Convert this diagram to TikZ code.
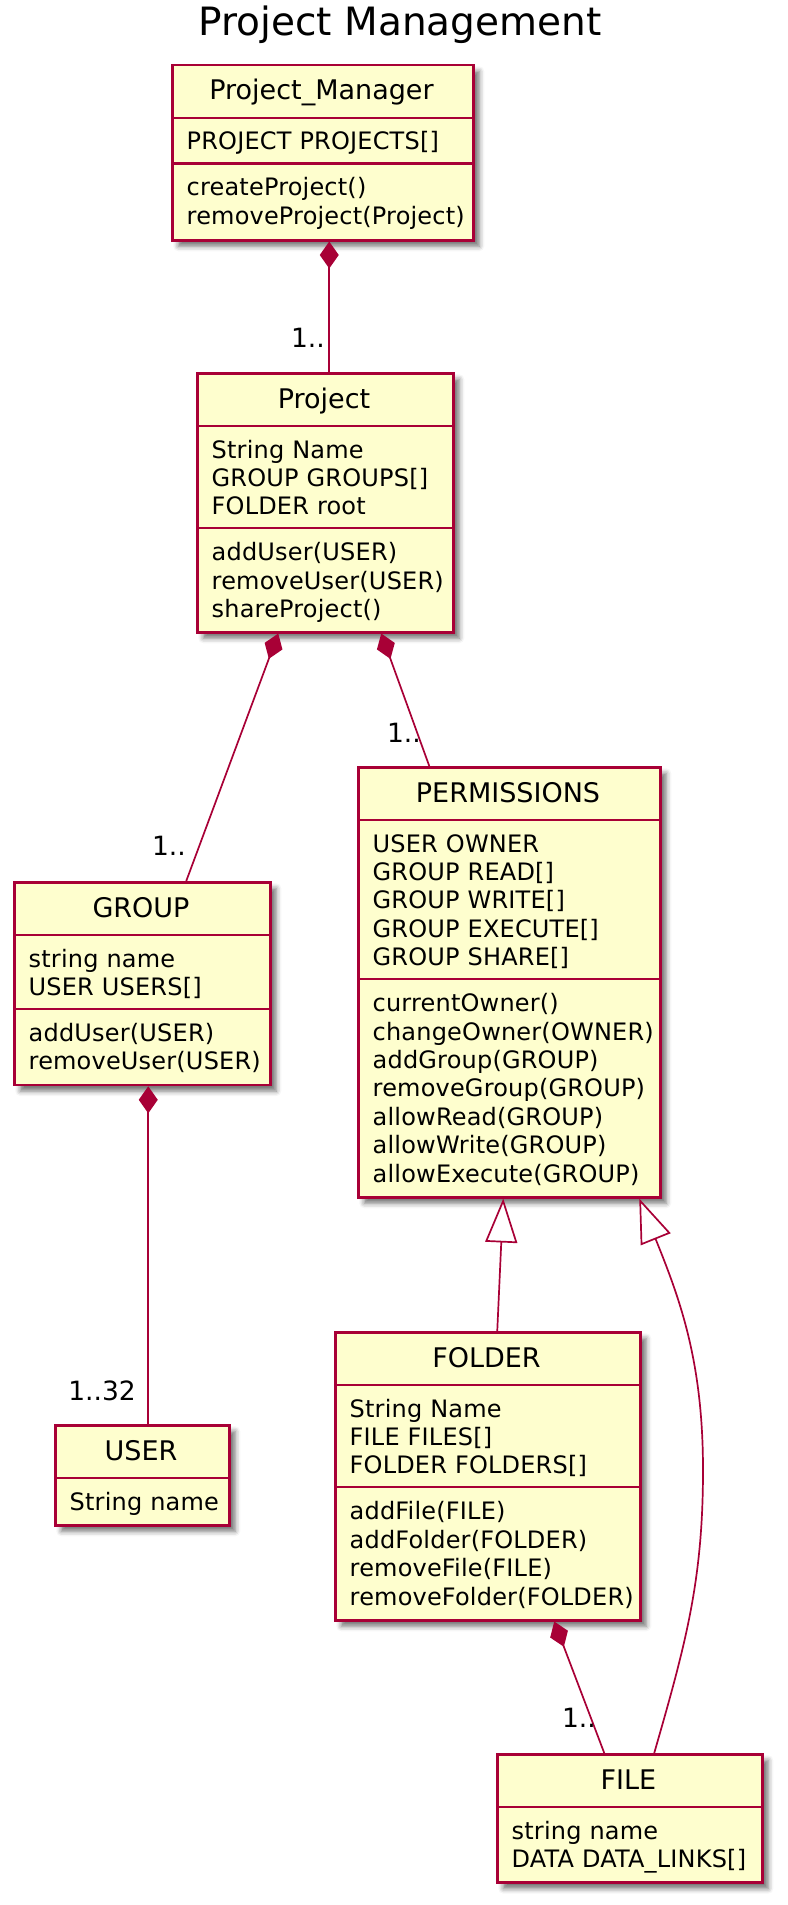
\documentclass[tikz,border=0pt]{standalone}
\usepackage{fontspec}
\setmainfont{DejaVu Sans}
\usetikzlibrary{arrows.meta,shadows.blur}
\definecolor{umlfill}{HTML}{FEFECE}
\definecolor{umlline}{HTML}{A80036}
\tikzset{
  classbox/.style={draw=umlline, fill=umlfill, line width=2.5pt, anchor=north west, inner sep=0pt,
    blur shadow={shadow xshift=6pt, shadow yshift=-6pt, shadow blur radius=5pt, shadow opacity=55}},
  sepline/.style={draw=umlline, line width=2.3pt},
  cname/.style={anchor=base, inner sep=0pt, font=\fontsize{27}{32}\selectfont},
  members/.style={anchor=base west, inner sep=0pt, align=left, text width=320pt, font=\fontsize{24}{28.4}\selectfont\addfontfeatures{LetterSpace=0.8}},
  conn/.style={draw=umlline, line width=1.7pt},
  comp/.style={conn, {Diamond[length=27pt,width=19pt]}-},
  ext/.style={conn, {Triangle[open,length=44pt,width=32pt,fill=white]}-},
  mult/.style={anchor=base east, inner sep=0pt, font=\fontsize{26.5}{30}\selectfont},
}
\begin{document}
\begin{tikzpicture}[x=1pt,y=1pt]
\useasboundingbox (0,0) rectangle (787,-1905);

\node[anchor=base, inner sep=0pt, font=\fontsize{39}{44}\selectfont] (title) at (400,-36) {Project Management};

% Project_Manager
\node[classbox, minimum width=301pt, minimum height=175pt] (pm) at (171,-64) {};
\draw[sepline] (171,-118) -- (472,-118);
\draw[sepline] (171,-163.5) -- (472,-163.5);
\node[cname] (pmname) at (321.5,-100) {Project\_Manager};
\node[members] (pmattr) at (186.5,-150) {PROJECT PROJECTS[]};
\node[members] (pmmeth) at (186.5,-196) {createProject()\\removeProject(Project)};

% Project
\node[classbox, minimum width=256pt, minimum height=259pt] (project) at (196,-372) {};
\draw[sepline] (196,-426) -- (452,-426);
\draw[sepline] (196,-528.3) -- (452,-528.3);
\node[cname] (projname) at (324,-408) {Project};
\node[members] (projattr) at (211.5,-458) {String Name\\GROUP GROUPS[]\\FOLDER root};
\node[members] (projmeth) at (211.5,-560.8) {addUser(USER)\\removeUser(USER)\\shareProject()};

% PERMISSIONS
\node[classbox, minimum width=302pt, minimum height=430pt] (perm) at (357,-766) {};
\draw[sepline] (357,-820) -- (659,-820);
\draw[sepline] (357,-979.1) -- (659,-979.1);
\node[cname] (permname) at (508,-802) {PERMISSIONS};
\node[members] (permattr) at (372.5,-852) {USER OWNER\\GROUP READ[]\\GROUP WRITE[]\\GROUP EXECUTE[]\\GROUP SHARE[]};
\node[members] (permmeth) at (372.5,-1011.6) {currentOwner()\\changeOwner(OWNER)\\addGroup(GROUP)\\removeGroup(GROUP)\\allowRead(GROUP)\\allowWrite(GROUP)\\allowExecute(GROUP)};

% GROUP
\node[classbox, minimum width=256pt, minimum height=202.8pt] (group) at (13,-881) {};
\draw[sepline] (13,-935) -- (269,-935);
\draw[sepline] (13,-1008.9) -- (269,-1008.9);
\node[cname] (groupname) at (141,-917) {GROUP};
\node[members] (groupattr) at (28.5,-967) {string name\\USER USERS[]};
\node[members] (groupmeth) at (28.5,-1041.4) {addUser(USER)\\removeUser(USER)};

% USER
\node[classbox, minimum width=174pt, minimum height=100pt] (user) at (54,-1424) {};
\draw[sepline] (54,-1478) -- (228,-1478);
\node[cname] (username) at (141,-1460) {USER};
\node[members] (userattr) at (69.5,-1510) {String name};

% FOLDER
\node[classbox, minimum width=305pt, minimum height=288pt] (folder) at (334,-1331) {};
\draw[sepline] (334,-1385) -- (639,-1385);
\draw[sepline] (334,-1487.3) -- (639,-1487.3);
\node[cname] (foldername) at (486.5,-1367) {FOLDER};
\node[members] (folderattr) at (349.5,-1417) {String Name\\FILE FILES[]\\FOLDER FOLDERS[]};
\node[members] (foldermeth) at (349.5,-1519.8) {addFile(FILE)\\addFolder(FOLDER)\\removeFile(FILE)\\removeFolder(FOLDER)};

% FILE
\node[classbox, minimum width=265pt, minimum height=128.4pt] (file) at (496,-1753) {};
\draw[sepline] (496,-1807) -- (761,-1807);
\node[cname] (filename) at (628.5,-1789) {FILE};
\node[members] (fileattr) at (511.5,-1839) {string name\\DATA DATA\_LINKS[]};

% connectors
\draw[comp] ([xshift=6.5pt]pm.south) -- ([xshift=4pt]project.north);
\draw[comp] ([xshift=-47pt]project.south) -- ([xshift=44pt]group.north);
\draw[comp] ([xshift=56pt]project.south) -- ([xshift=-80pt]perm.north);
\draw[comp] ([xshift=6pt]group.south) -- ([xshift=6pt]user.north);
\draw[ext] ([xshift=-6pt]perm.south) -- ([xshift=9.5pt]folder.north);
\coordinate (via) at (703,-1470);
\draw[ext] ([xshift=130pt]perm.south) to[out=-68,in=90] (via) to[out=-90,in=74] ([xshift=24.5pt]file.north);
\draw[comp] ([xshift=66.5pt]folder.south) -- ([xshift=-25.5pt]file.north);

% multiplicities
\node[mult] (m1) at (325,-347) {1..};
\node[mult] (m2) at (186,-855) {1..};
\node[mult] (m3) at (421,-742) {1..};
\node[mult] (m4) at (136,-1400) {1..32};
\node[mult] (m5) at (596,-1727) {1..};
\end{tikzpicture}
\end{document}
